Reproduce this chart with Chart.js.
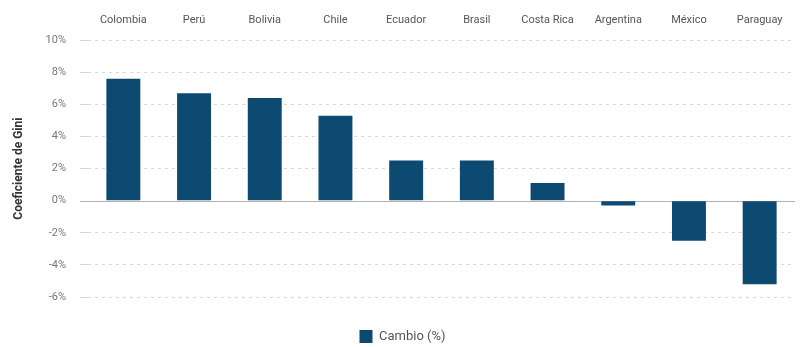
<!DOCTYPE html>
<html>
<head>
<meta charset="utf-8">
<script src="https://cdn.jsdelivr.net/npm/chart.js@4"></script>
<style>
  body { margin: 0; background: #fff; }
  #wrap { width: 801px; height: 347px; }
</style>
</head>
<body>
<div id="wrap"><canvas id="myChart" width="801" height="347"></canvas></div>
<script>
// data
const countries = ['Colombia', 'Perú', 'Bolivia', 'Chile', 'Ecuador', 'Brasil', 'Costa Rica', 'Argentina', 'México', 'Paraguay'];
const cambio = [7.6, 6.7, 6.4, 5.3, 2.5, 2.5, 1.1, -0.3, -2.5, -5.2];
const yTicks = [-6, -4, -2, 0, 2, 4, 6, 8, 10];

const ctx = document.getElementById('myChart');

// solid line at 0%, the other grid lines stay dashed
const zeroLine = {
  id: 'zeroLine',
  beforeDatasetsDraw: function(chart) {
    const y = chart.scales.y;
    const py = Math.round(y.getPixelForValue(0)) + 0.5;
    const c = chart.ctx;
    c.save();
    c.strokeStyle = '#b0b0b0';
    c.lineWidth = 1;
    c.beginPath();
    c.moveTo(chart.chartArea.left - 8, py);
    c.lineTo(chart.chartArea.right, py);
    c.stroke();
    c.restore();
  }
};

new Chart(ctx, {
  type: 'bar',
  data: {
    labels: countries,
    datasets: [{
      label: 'Cambio (%)',
      data: cambio,
      backgroundColor: '#0d4a72',
      borderWidth: 0,
      barPercentage: 0.48,
      categoryPercentage: 1
    }]
  },
  options: {
    responsive: false,
    animation: false,
    layout: { padding: { top: 1, right: 6, left: 10, bottom: -6 } },
    plugins: {
      legend: {
        position: 'bottom',
        labels: {
          boxWidth: 13,
          boxHeight: 13,
          color: '#555',
          font: { family: 'Roboto', size: 13 },
          padding: 33
        }
      },
      tooltip: { enabled: false }
    },
    scales: {
      x: {
        position: 'top',
        grid: { display: false, drawTicks: false },
        border: { display: false },
        ticks: {
          color: '#555',
          font: { family: 'Roboto', size: 11 },
          padding: 13
        }
      },
      y: {
        min: -6,
        max: 10,
        afterBuildTicks: function(axis) {
          axis.ticks = yTicks.map(v => ({ value: v }));
        },
        afterFit: function(axis) {
          axis.width = 78;
        },
        border: { display: false, dash: [3, 4] },
        grid: {
          color: function(c) { return c.tick && c.tick.value === 0 ? 'rgba(0,0,0,0)' : '#d8d8d8'; },
          lineWidth: 1,
          tickLength: 8
        },
        ticks: {
          color: '#777',
          font: { family: 'Roboto', size: 11 },
          padding: 14,
          callback: function(v) { return v + '%'; }
        },
        title: {
          display: true,
          text: 'Coeficiente de Gini',
          color: '#333',
          font: { family: 'Roboto', size: 12, weight: 'bold' },
          padding: { top: 2, bottom: 10 }
        }
      }
    }
  },
  plugins: [zeroLine]
});
</script>
</body>
</html>
